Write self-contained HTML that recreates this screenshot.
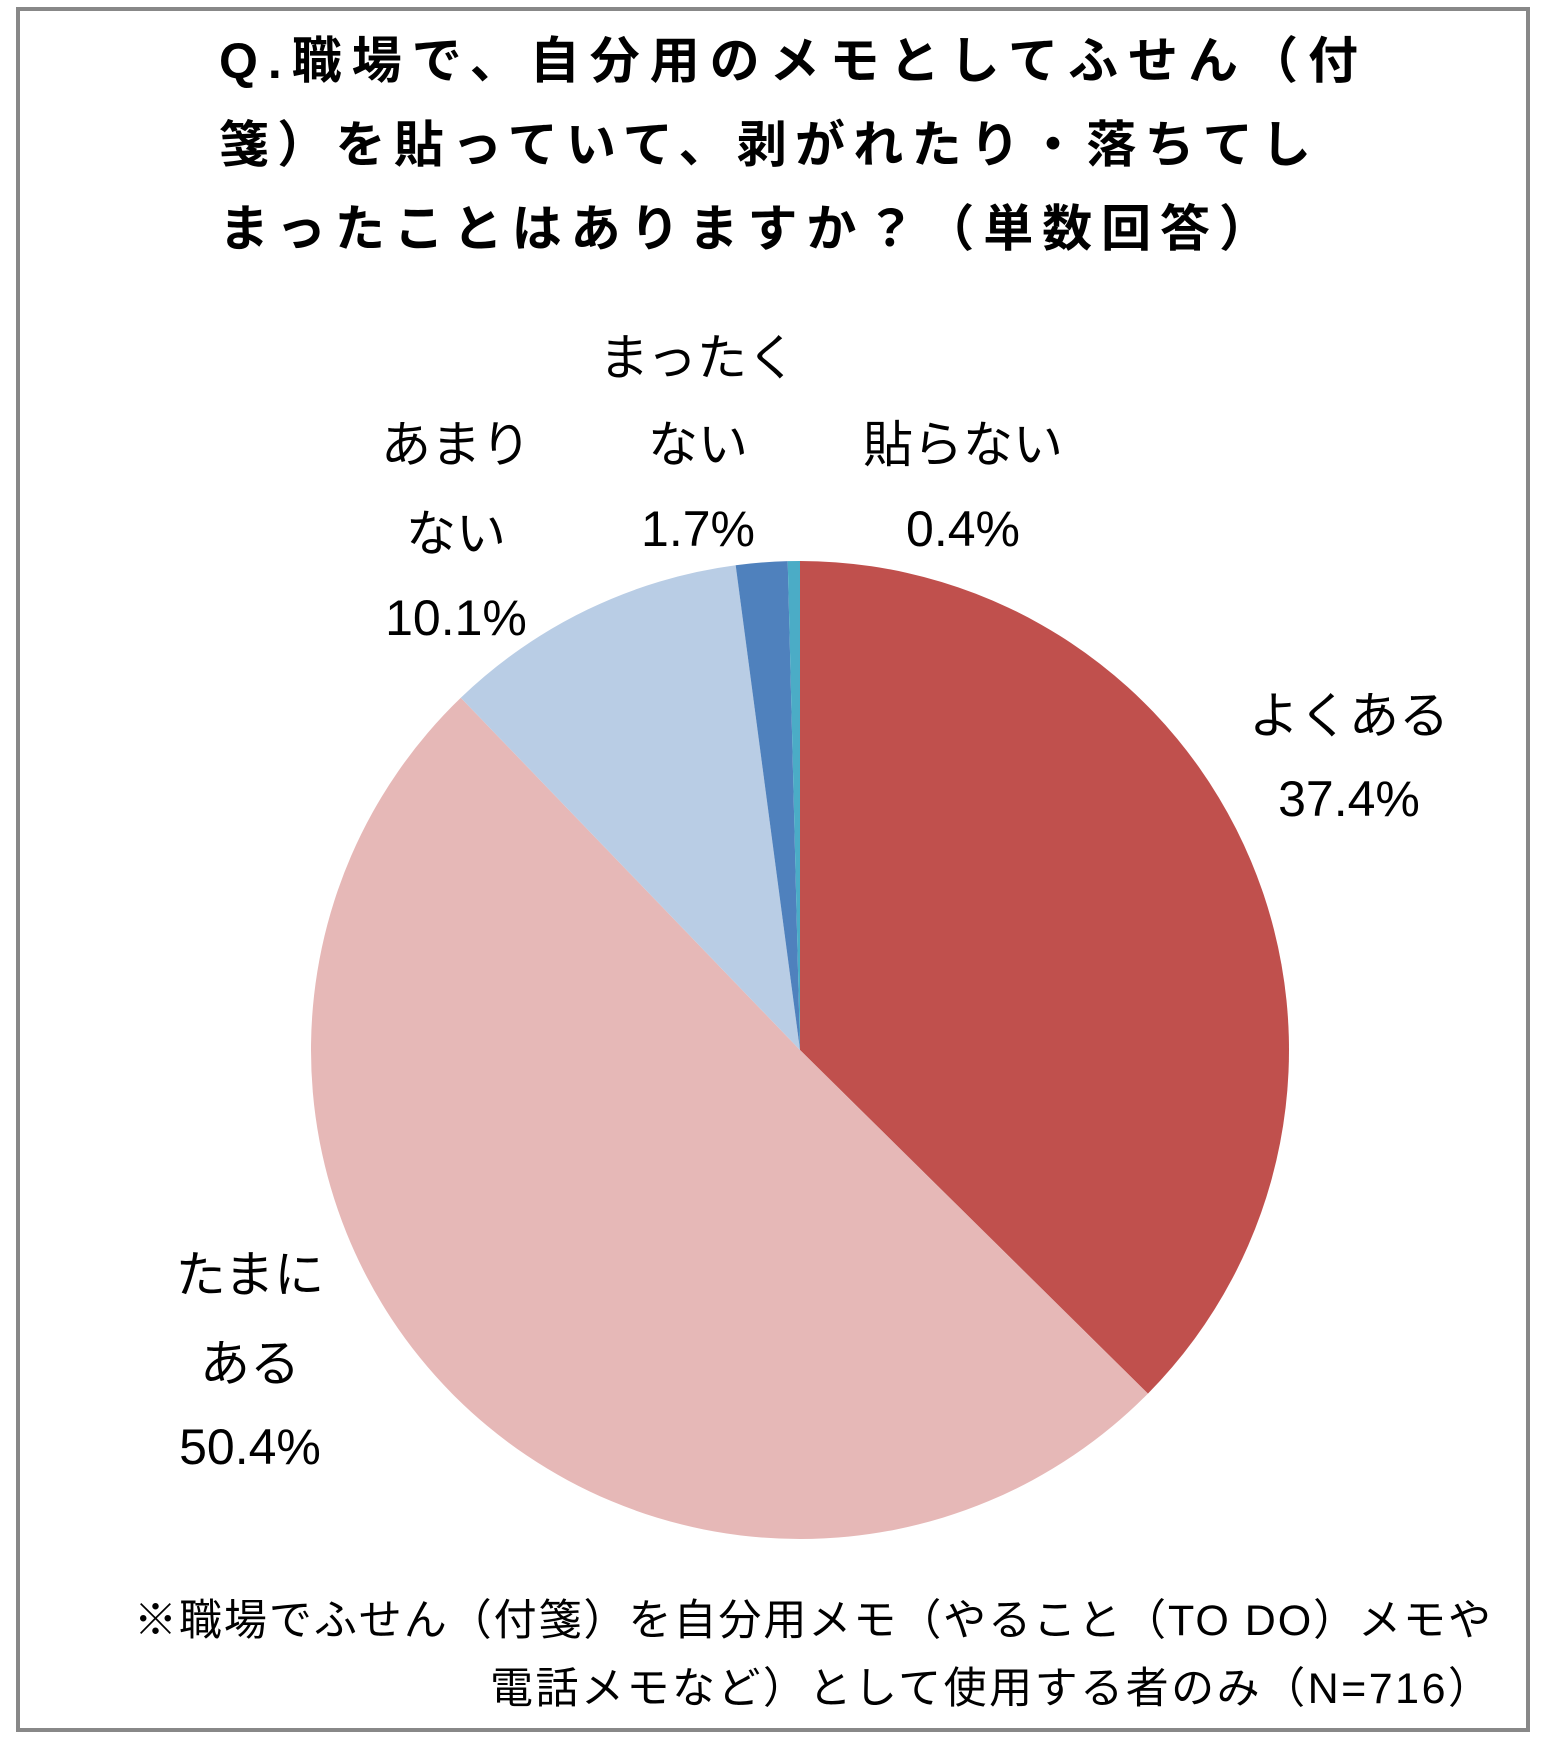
<!DOCTYPE html>
<html><head><meta charset="utf-8"><style>
body{margin:0;background:#fff;}
svg text{font-family:"Liberation Sans","Noto Sans CJK JP",sans-serif;fill:#000;}
.lbl{font-size:50px;text-anchor:middle;}
.title{font-size:50px;font-weight:bold;}
.note{font-size:43px;}
</style></head><body>
<svg width="1541" height="1742" viewBox="0 0 1541 1742">
<rect x="18" y="9" width="1510" height="1721" fill="#fff" stroke="#888" stroke-width="4"/>
<text class="title" x="219" y="78" textLength="1139" lengthAdjust="spacing">Q.職場で、自分用のメモとしてふせん（付</text>
<text class="title" x="219" y="162" textLength="1092" lengthAdjust="spacing">箋）を貼っていて、剥がれたり・落ちてし</text>
<text class="title" x="219" y="246" textLength="1050" lengthAdjust="spacing">まったことはありますか？（単数回答）</text>
<g id="slices"></g>
<text class="lbl" x="1349" y="733">よくある</text>
<text class="lbl" x="1349" y="816">37.4%</text>
<text class="lbl" x="250" y="1292">たまに</text>
<text class="lbl" x="250" y="1381">ある</text>
<text class="lbl" x="250" y="1464">50.4%</text>
<text class="lbl" x="456" y="462">あまり</text>
<text class="lbl" x="456" y="551">ない</text>
<text class="lbl" x="456" y="635">10.1%</text>
<text class="lbl" x="698" y="375">まったく</text>
<text class="lbl" x="698" y="462">ない</text>
<text class="lbl" x="698" y="546">1.7%</text>
<text class="lbl" x="963" y="462">貼らない</text>
<text class="lbl" x="963" y="546">0.4%</text>
<text class="note" x="134" y="1635" textLength="1357" lengthAdjust="spacing">※職場でふせん（付箋）を自分用メモ（やること（TO DO）メモや</text>
<text class="note" x="490" y="1703" textLength="1001" lengthAdjust="spacing">電話メモなど）として使用する者のみ（N=716）</text>
</svg>
<script>
const categories=["よくある","たまにある","あまりない","まったくない","貼らない"];
const values=[37.4,50.4,10.1,1.7,0.4];
const colors=["#C0504D","#E6B8B7","#B9CDE5","#4F81BD","#4BACC6"];
const cx=800,cy=1050,r=489;
const g=document.getElementById('slices');
const total=values.reduce((a,b)=>a+b,0);
let a0=0;
values.forEach((v,i)=>{
  const a1=a0+v/total*2*Math.PI;
  const x0=cx+r*Math.sin(a0),y0=cy-r*Math.cos(a0);
  const x1=cx+r*Math.sin(a1),y1=cy-r*Math.cos(a1);
  const p=document.createElementNS('http://www.w3.org/2000/svg','path');
  p.setAttribute('d',`M${cx},${cy}L${x0},${y0}A${r},${r} 0 ${a1-a0>Math.PI?1:0} 1 ${x1},${y1}Z`);
  p.setAttribute('fill',colors[i]);
  
  
  g.appendChild(p);
  a0=a1;
});
</script>
</body></html>
